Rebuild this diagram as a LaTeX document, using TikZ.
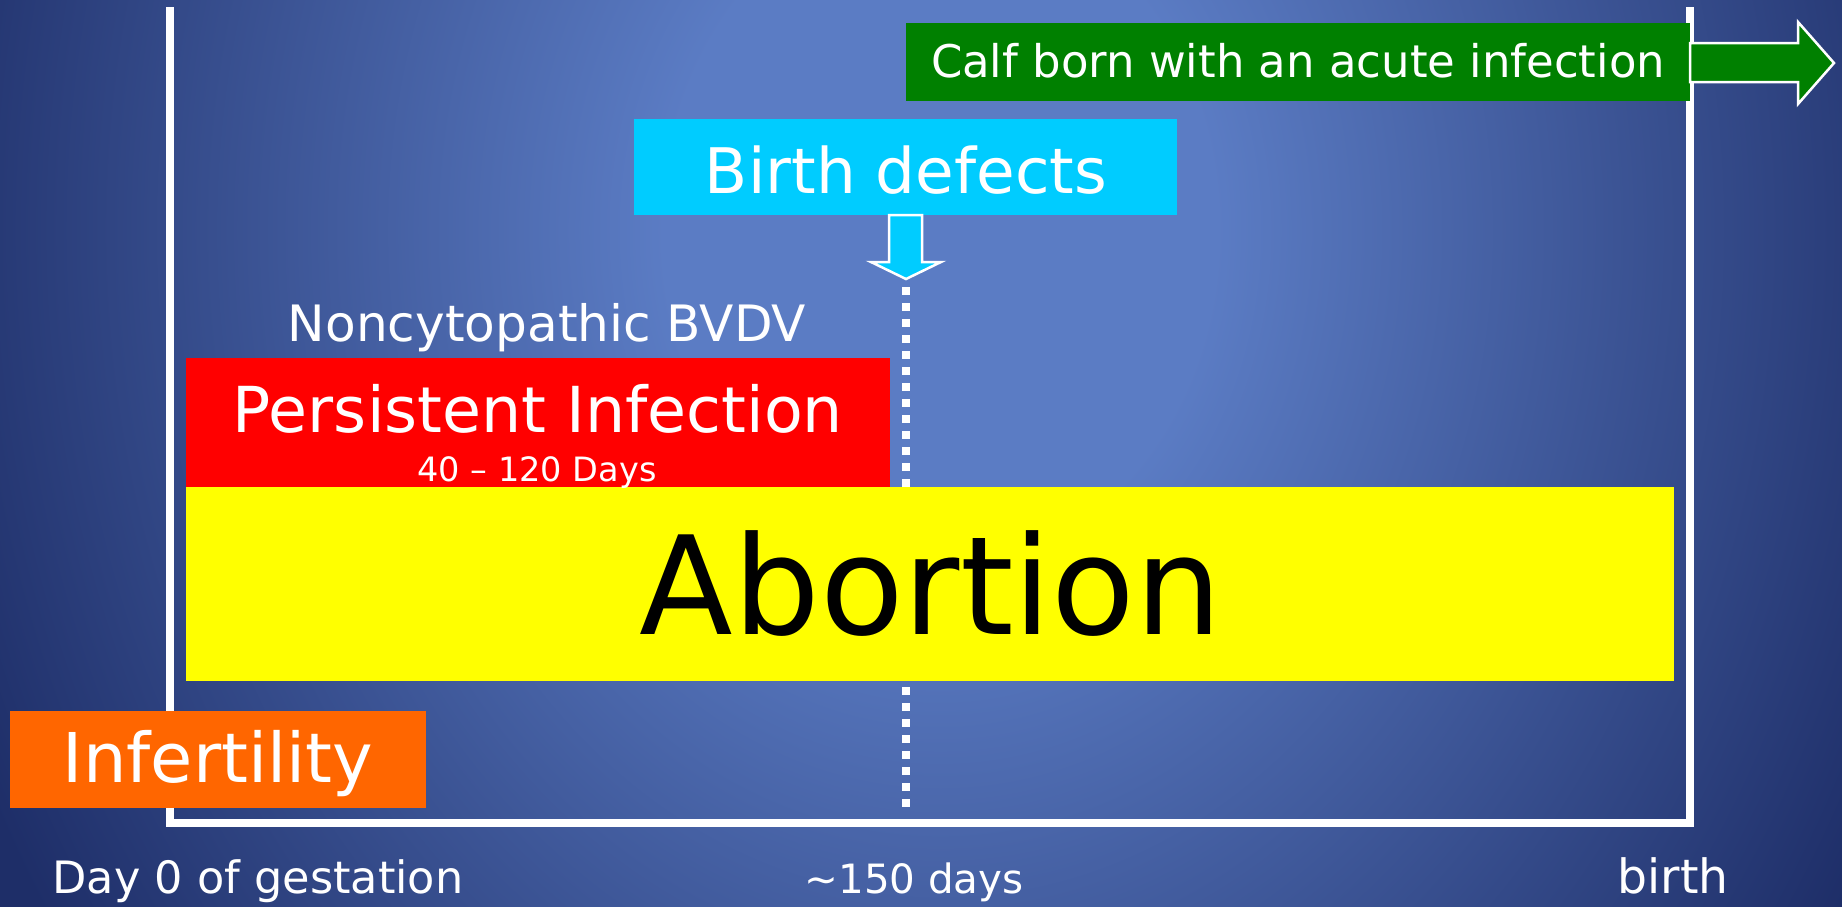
\documentclass[tikz,border=0pt]{standalone}
\usepackage{fontspec}
\setmainfont{DejaVu Sans}
\usepackage{graphicx}
\definecolor{bgin}{HTML}{5B7CC4}
\definecolor{bgout}{HTML}{1E2E68}
\definecolor{greenbox}{HTML}{008000}
\definecolor{cyanbox}{HTML}{00CCFF}
\definecolor{redbox}{HTML}{FF0000}
\definecolor{yellowbox}{HTML}{FFFF00}
\definecolor{orangebox}{HTML}{FF6600}
\pgfdeclareradialshading{bgshade}{\pgfpoint{0bp}{0bp}}{color(0bp)=(bgin); color(6.5bp)=(bgin); color(25bp)=(bgout); color(50bp)=(bgout)}
\newcommand{\fitw}[2]{\resizebox{#1pt}{!}{\fontsize{40}{48}\selectfont #2}}
\tikzset{
  box/.style={draw=none, inner sep=0pt, outer sep=0pt, anchor=north west},
  lbl/.style={inner sep=0pt, outer sep=0pt, anchor=base, text=white},
  frame/.style={draw=white, line width=8pt},
  arrowshape/.style={draw=white, line width=2.5pt, line join=miter}
}
\begin{document}
\begin{tikzpicture}[x=1pt, y=-1pt]
\useasboundingbox (0,0) rectangle (1842,906);
% background
\begin{scope}
\clip (0,0) rectangle (1842,906);
\shade[shading=bgshade] (-120,-1050) rectangle (2000,1510);
\end{scope}
% frame
\draw[frame] (170,7) -- (170,823) -- (1690,823) -- (1690,7);
% dotted line at ~150 days
\coordinate (dtop) at (906,287);
\coordinate (dbot) at (906,807);
\draw[white, line width=8pt, dash pattern=on 8pt off 8pt] (dtop) -- (dbot);
% boxes
\node[box, fill=greenbox, minimum width=784pt, minimum height=78pt] (calf) at (906,23) {};
\node[box, fill=cyanbox, minimum width=543pt, minimum height=96pt] (defects) at (634,119) {};
\node[box, fill=redbox, minimum width=704pt, minimum height=129pt] (pi) at (186,358) {};
\node[box, fill=yellowbox, minimum width=1488pt, minimum height=194pt] (abort) at (186,487) {};
\node[box, fill=orangebox, minimum width=416pt, minimum height=97pt] (infert) at (10,711) {};
% arrows
\draw[arrowshape, fill=cyanbox] (889,215) -- (922,215) -- (922,262) -- (941,262) -- (906,279) -- (871,262) -- (889,262) -- cycle;
\draw[arrowshape, fill=greenbox] (1690,43) -- (1798,43) -- (1798,22) -- (1834,63) -- (1798,104) -- (1798,82) -- (1690,82) -- cycle;
% texts
\node[lbl] (tcalf) at (1298,77) {\fitw{734}{Calf born with an acute infection}};
\node[lbl] (tdef) at (906,193) {\fitw{402}{Birth defects}};
\node[lbl] (tnon) at (547,341) {\fitw{518}{Noncytopathic BVDV}};
\node[lbl] (tpi) at (538,432) {\fitw{610}{Persistent Infection}};
\node[lbl] (tdays) at (537,481) {\fitw{239}{40 -- 120 Days}};
\node[lbl, text=black] (tabort) at (931,634) {\fitw{582}{Abortion}};
\node[lbl] (tinf) at (218,782) {\fitw{310}{Infertility}};
\node[lbl] (tday0) at (258,893) {\fitw{411}{Day 0 of gestation}};
\node[lbl] (t150) at (914,893) {\fitw{219}{\textasciitilde150 days}};
\node[lbl] (tbirth) at (1673,893) {\fitw{111}{birth}};
\end{tikzpicture}
\end{document}
